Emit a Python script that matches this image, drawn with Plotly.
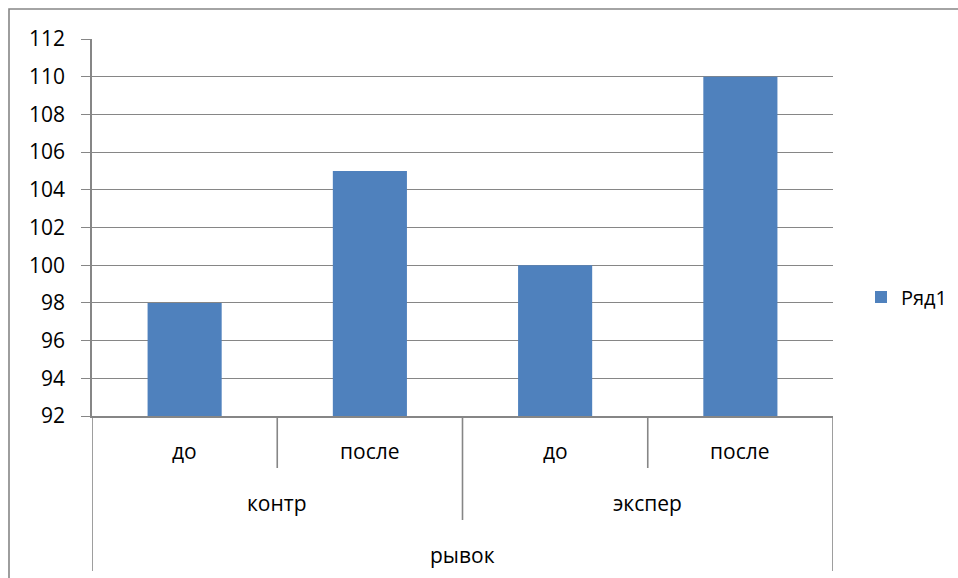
import plotly.graph_objects as go

# ---- data ----
groups = ["контр", "контр", "экспер", "экспер"]
subcats = ["до", "после", "до", "после"]
top_label = "рывок"
series_name = "Ряд1"
values = [98, 105, 100, 110]
y_ticks = list(range(92, 113, 2))

# ---- layout geometry (pixels) ----
W, H = 958, 578
L, R, T, B = 92, 833, 39, 416
FONT = "Open Sans"
GRAY = "#868686"
BAR = "#4F81BD"
FS = 21


def py(p):
    return (B - p) / (B - T)


def px(p):
    return (p - L) / (R - L)


x_idx = list(range(len(values)))

fig = go.Figure()
fig.add_trace(go.Bar(
    x=x_idx, y=values, name=series_name,
    marker=dict(color=BAR, line=dict(width=0)),
    showlegend=True,
))

shapes = []
annotations = []

# sub-category labels
for i, s in enumerate(subcats):
    annotations.append(dict(x=i, y=py(451), xref="x", yref="paper", text=s,
                            showarrow=False, xanchor="center", yanchor="middle",
                            font=dict(family=FONT, size=FS, color="#000")))
# group labels
uniq = []
for g in groups:
    if g not in uniq:
        uniq.append(g)
for g in uniq:
    idx = [i for i, gg in enumerate(groups) if gg == g]
    c = (idx[0] + idx[-1]) / 2
    annotations.append(dict(x=c, y=py(503), xref="x", yref="paper", text=g,
                            showarrow=False, xanchor="center", yanchor="middle",
                            font=dict(family=FONT, size=FS, color="#000")))
annotations.append(dict(x=(len(values) - 1) / 2, y=py(555), xref="x", yref="paper",
                        text=top_label, showarrow=False, xanchor="center",
                        yanchor="middle", font=dict(family=FONT, size=FS, color="#000")))

# divider lines
n = len(values)
for k in range(n + 1):
    xb = k - 0.5
    if k == 0 or k == n:
        yend = 571
    elif groups[k - 1] != groups[k]:
        yend = 520
    else:
        yend = 468
    shapes.append(dict(type="line", xref="x", yref="paper", x0=xb, x1=xb,
                       y0=py(B), y1=py(yend), line=dict(color=GRAY, width=1.6)))

# outer chart border
shapes.append(dict(type="rect", xref="paper", yref="paper",
                   x0=px(9), x1=px(975), y0=py(9), y1=py(595),
                   line=dict(color=GRAY, width=1.6), fillcolor="rgba(0,0,0,0)",
                   layer="below"))

fig.update_layout(
    width=W, height=H,
    margin=dict(l=L, r=W - R, t=T, b=H - B, pad=0, autoexpand=False),
    paper_bgcolor="white", plot_bgcolor="white",
    bargap=0.6,
    font=dict(family=FONT, size=FS, color="#000"),
    xaxis=dict(range=[-0.5, n - 0.5], showticklabels=False, ticks="",
               showgrid=False, zeroline=False, showline=True,
               linecolor=GRAY, linewidth=1.6, fixedrange=True),
    yaxis=dict(range=[92, 112], tickvals=y_ticks, ticks="outside", ticklen=9,
               tickcolor=GRAY, tickwidth=1, showgrid=True, gridcolor=GRAY,
               gridwidth=1, zeroline=False, showline=True, linecolor=GRAY,
               linewidth=1.6, ticklabelstandoff=12,
               tickfont=dict(family=FONT, size=FS, color="#000")),
    legend=dict(x=px(861), y=py(297), xanchor="left", yanchor="middle",
                font=dict(family=FONT, size=20, color="#000"),
                bgcolor="rgba(0,0,0,0)", borderwidth=0),
    shapes=shapes,
    annotations=annotations,
)

fig.write_html("out.html")
